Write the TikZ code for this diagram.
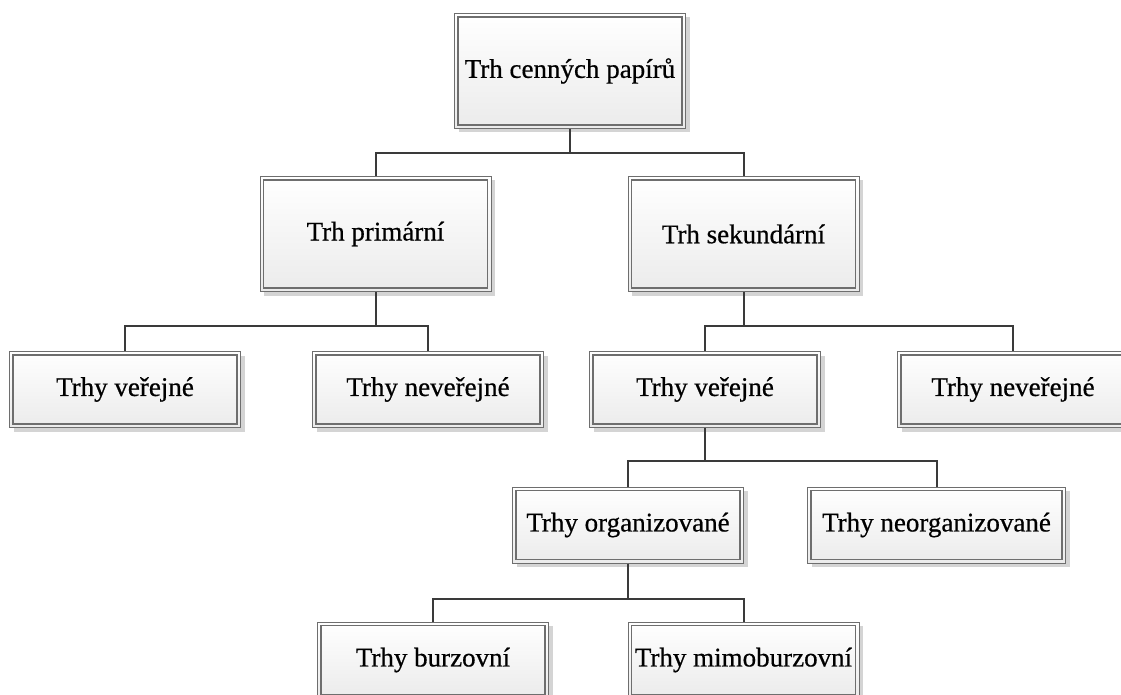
\documentclass[tikz,border=0pt]{standalone}
\usepackage{fontspec}
\setmainfont{Liberation Serif}
\newfontfamily\boxfont{Liberation Serif}[BoldFont={Liberation Serif},BoldFeatures={FakeBold=0.6}]
\usetikzlibrary{shadows}
\definecolor{bordergray}{HTML}{6E6E6E}
\definecolor{linegray}{HTML}{3A3A3A}
\definecolor{shadegray}{HTML}{EBEBEB}
\definecolor{shadowgray}{HTML}{D4D4D4}
\tikzset{
  boxnode/.style={draw=bordergray, line width=1pt,
    top color=white, bottom color=shadegray, inner sep=0pt,
    minimum width=231pt, minimum height=76pt,
    font=\boxfont\bfseries\fontsize{27}{32}\selectfont,
    drop shadow={shadow xshift=4pt, shadow yshift=-4pt, fill=shadowgray, opacity=1},
    path picture={
      \draw[draw=bordergray, line width=1.1pt]
        ([xshift=3.5pt,yshift=3.5pt]path picture bounding box.south west) rectangle
        ([xshift=-3.5pt,yshift=-3.5pt]path picture bounding box.north east);
    }},
  bigbox/.style={boxnode, minimum height=115pt},
  conn/.style={draw=linegray, line width=2pt}
}
\begin{document}
\begin{tikzpicture}[x=1pt, y=-1pt]
\useasboundingbox[fill=white] (0,0) rectangle (1121,695);
% nodes
\node[bigbox] (top) at (570,71) {Trh cenných papírů};
\node[bigbox] (prim) at (375.5,234) {Trh primární};
\node[bigbox] (sek) at (743.5,234) {Trh sekundární};
\node[boxnode] (v1) at (125,389.5) {Trhy veřejné};
\node[boxnode] (n1) at (428,389.5) {Trhy neveřejné};
\node[boxnode] (v2) at (705,389.5) {Trhy veřejné};
\node[boxnode] (n2) at (1013,389.5) {Trhy neveřejné};
\node[boxnode] (org) at (628,525) {Trhy organizované};
\node[boxnode, minimum width=258pt] (neorg) at (936.5,525) {Trhy neorganizované};
\node[boxnode] (burz) at (433,660) {Trhy burzovní};
\node[boxnode] (mimo) at (743.5,660) {Trhy mimoburzovní};
% junctions
\coordinate (j1) at (570,153);
\coordinate (j2) at (375.5,326);
\coordinate (j3) at (743.5,326);
\coordinate (j4) at (705,461);
\coordinate (j5) at (628,599);
% connectors
\draw[conn] (top.south) -- (j1);
\draw[conn] (prim.north) |- (j1) -| (sek.north);
\draw[conn] (prim.south) -- (j2);
\draw[conn] (v1.north) |- (j2) -| (n1.north);
\draw[conn] (sek.south) -- (j3);
\draw[conn] (v2.north) |- (j3) -| (n2.north);
\draw[conn] (v2.south) -- (j4);
\draw[conn] (org.north) |- (j4) -| (neorg.north);
\draw[conn] (org.south) -- (j5);
\draw[conn] (burz.north) |- (j5) -| (mimo.north);
\end{tikzpicture}
\end{document}
